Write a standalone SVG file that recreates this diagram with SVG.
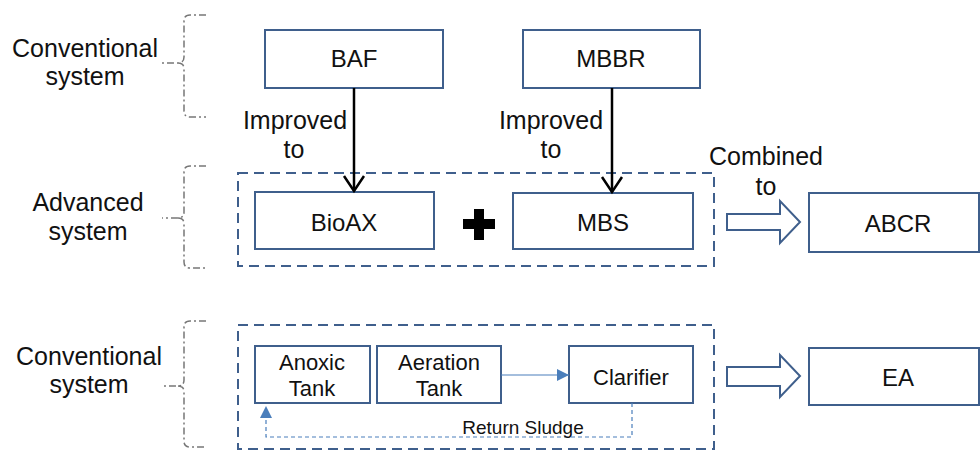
<svg xmlns="http://www.w3.org/2000/svg" width="980" height="451" viewBox="0 0 980 451">
<defs>
<style>
text{font-family:"Liberation Sans",Arial,sans-serif;fill:#111;text-anchor:middle}
.lbl{font-size:25px}
.bx{font-size:24px}
.sm{font-size:22px}
.box{fill:#fff;stroke:#3f5f8c;stroke-width:2}
.dbox{fill:none;stroke:#3f5f8c;stroke-width:2;stroke-dasharray:10 6}
.brk{fill:none;stroke:#777;stroke-width:1.5;stroke-dasharray:7 3 2 3}
.blk{stroke:#000;stroke-width:2.5;fill:none}
.hollow{fill:#fff;stroke:#3f5f8c;stroke-width:2;stroke-linejoin:miter}
.thin{stroke:#4a7ebb;stroke-width:1.2;fill:none}
</style>
<marker id="open" viewBox="0 0 20 24" refX="17" refY="12" markerWidth="20" markerHeight="24" markerUnits="userSpaceOnUse" orient="auto">
<path d="M2,2 L17,12 L2,22" fill="none" stroke="#000" stroke-width="2.5"/>
</marker>
<marker id="tri" viewBox="0 0 12 12" refX="12" refY="6" markerWidth="12" markerHeight="12" markerUnits="userSpaceOnUse" orient="auto">
<path d="M0,0 L12,6 L0,12 Z" fill="#4a7ebb"/>
</marker>
</defs>

<g id="brackets">
<path class="brk" d="M206,15 L190,15 Q184,15 184,21 L184,57 Q184,63 178,63 L162,63 M178,63 Q184,63 184,69 L184,111 Q184,117 190,117 L206,117"/>
<path class="brk" d="M206,166 L190,166 Q184,166 184,172 L184,212 Q184,218 178,218 L162,218 M178,218 Q184,218 184,224 L184,262 Q184,268 190,268 L206,268"/>
<path class="brk" d="M206,321 L190,321 Q184,321 184,327 L184,380 Q184,386 178,386 L162,386 M178,386 Q184,386 184,392 L184,441 Q184,447 190,447 L206,447"/>
</g>

<g id="labels">
<text class="lbl" x="85" y="57">Conventional</text>
<text class="lbl" x="85" y="85">system</text>
<text class="lbl" x="88" y="211">Advanced</text>
<text class="lbl" x="88" y="240">system</text>
<text class="lbl" x="89" y="365">Conventional</text>
<text class="lbl" x="89" y="393">system</text>
</g>

<g id="groups">
<rect class="dbox" x="238" y="173" width="476" height="93"/>
<rect class="dbox" x="238" y="325" width="476" height="124"/>
</g>

<g id="BAF"><rect class="box" x="265" y="30" width="178" height="58"/><text class="bx" x="354" y="67">BAF</text></g>
<g id="MBBR"><rect class="box" x="523" y="30" width="177" height="58"/><text class="bx" x="611" y="67">MBBR</text></g>
<g id="BioAX"><rect class="box" x="255" y="192" width="179" height="57"/><text class="bx" x="344" y="231">BioAX</text></g>
<g id="MBS"><rect class="box" x="513" y="193" width="180" height="56"/><text class="bx" x="603" y="231">MBS</text></g>
<g id="plus"><path d="M474,209 h10 v10 h11 v10 h-11 v11 h-10 v-11 h-11 v-10 h11 Z" fill="#000"/></g>
<g id="ABCR"><rect class="box" x="809" y="193" width="170" height="59"/><text class="bx" x="898" y="232">ABCR</text></g>
<g id="EA"><rect class="box" x="809" y="348" width="170" height="57"/><text class="bx" x="898" y="386">EA</text></g>

<g id="Anoxic"><rect class="box" x="255" y="346" width="115" height="57"/><text class="sm" x="312" y="370">Anoxic</text><text class="sm" x="312" y="396">Tank</text></g>
<g id="Aeration"><rect class="box" x="377" y="346" width="124" height="57"/><text class="sm" x="439" y="370">Aeration</text><text class="sm" x="439" y="396">Tank</text></g>
<g id="Clarifier"><rect class="box" x="569" y="346" width="124" height="57"/><text class="sm" x="631" y="385">Clarifier</text></g>

<g id="connectors">
<line class="blk" x1="354" y1="88" x2="354" y2="191" marker-end="url(#open)"/>
<line class="blk" x1="612" y1="88" x2="612" y2="192" marker-end="url(#open)"/>
<text class="lbl" x="295" y="129">Improved</text>
<text class="lbl" x="294" y="158">to</text>
<text class="lbl" x="551" y="129">Improved</text>
<text class="lbl" x="551" y="158">to</text>
<path class="hollow" d="M727,214 H780 V201 L800,222 L780,243 V230 H727 Z"/>
<text class="lbl" x="766" y="165">Combined</text>
<text class="lbl" x="766" y="195">to</text>
<path class="hollow" d="M727,367 H780 V355 L800,376 L780,397 V386 H727 Z"/>
<line class="thin" x1="501" y1="375" x2="569" y2="375" marker-end="url(#tri)"/>
<path class="thin" d="M632,403 V437 H266 V416" stroke-dasharray="4 3"/>
<path d="M260,418 L266,406 L272,418 Z" fill="#4a7ebb"/>
<text x="523" y="434" style="font-size:19px">Return Sludge</text>
</g>
</svg>
